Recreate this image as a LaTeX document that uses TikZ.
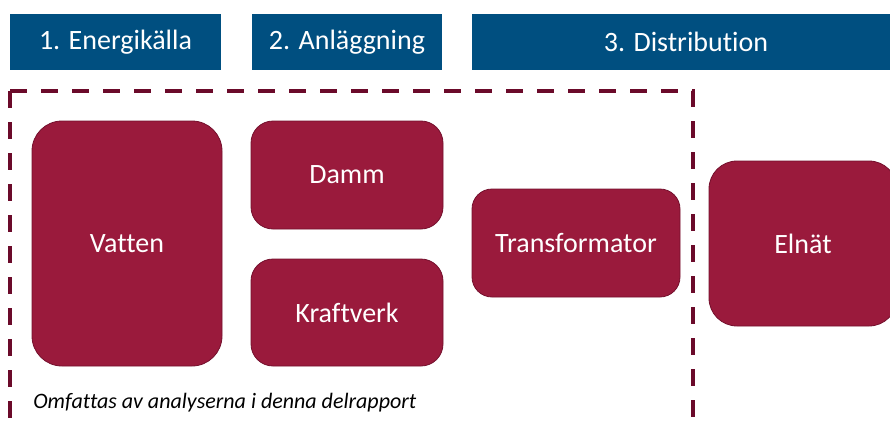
\documentclass[tikz,border=0pt]{standalone}
\usepackage{fontspec}
\setmainfont[Ligatures=NoCommon]{Carlito}
\definecolor{hdrblue}{HTML}{004F80}
\definecolor{blockred}{HTML}{9A1A3C}
\definecolor{blockedge}{HTML}{74102D}
\definecolor{scopeline}{HTML}{6B0A2A}
\begin{document}
\begin{tikzpicture}[x=0.75pt,y=-0.75pt,
  header/.style={fill=hdrblue, text=white, inner sep=0pt,
    font=\fontsize{21}{25}\selectfont, minimum height=42pt},
  block/.style={fill=blockred, draw=blockedge, line width=0.6pt, text=white,
    inner sep=0pt, font=\fontsize{21}{25}\selectfont},
  scopeline/.style={draw=scopeline, line width=3pt,
    dash pattern=on 12.75pt off 10.5pt},
  note/.style={font=\fontsize{16.5}{20}\selectfont\itshape, inner sep=0pt}]
\useasboundingbox (0,0) rectangle (890,421);
\clip (0,0) rectangle (890,421);

% phase headers
\node[header, minimum width=158.25pt] (h1) at (115.5,42) {1. Energikälla};
\node[header, minimum width=142.5pt] (h2) at (347,42) {2. Anläggning};
\node[header, minimum width=321pt] (h3) at (686,42) {3. Distribution};

% components
\node[block, minimum width=142.5pt, minimum height=183.75pt, rounded corners=22.5pt] (vatten) at (127,243.5) {Vatten};
\node[block, minimum width=144pt, minimum height=81pt, rounded corners=16.5pt] (damm) at (347,175) {Damm};
\node[block, minimum width=144pt, minimum height=80.25pt, rounded corners=16.5pt] (kraft) at (347,312.5) {Kraftverk};
\node[block, minimum width=156pt, minimum height=81pt, rounded corners=15pt] (trafo) at (576,243) {Transformator};
\node[block, minimum width=141pt, minimum height=123.75pt, rounded corners=21pt] (elnat) at (803,243.5) {Elnät};

% scope of the analysis (open at the bottom)
\coordinate (c1) at (10,91);
\coordinate (c2) at (693,91);
\coordinate (b1) at (10,430);
\coordinate (b2) at (693,430);
\draw[scopeline] (c1) -- (b1);
\draw[scopeline] (c1) -- (c2) -- (b2);

\node[note, anchor=base west] (scope) at (33,408) {Omfattas av analyserna i denna delrapport};
\end{tikzpicture}
\end{document}
